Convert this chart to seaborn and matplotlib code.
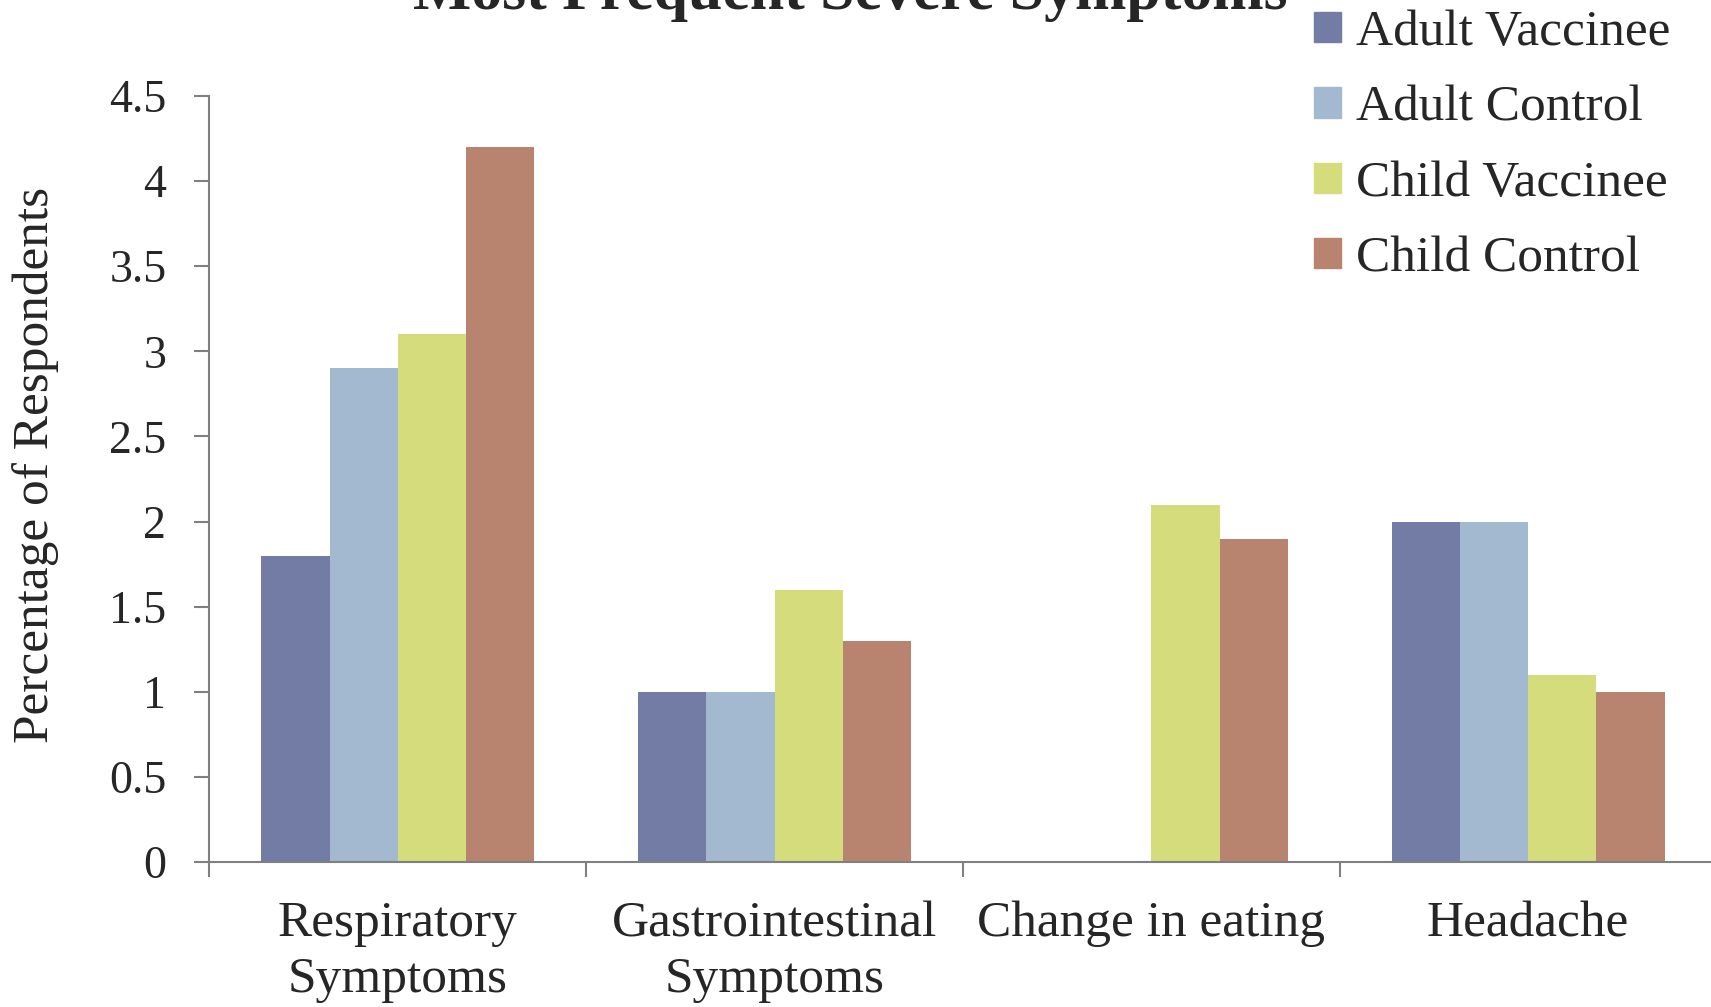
import seaborn as sns
import matplotlib.pyplot as plt
import pandas as pd
from matplotlib.ticker import FixedLocator, FuncFormatter

symptoms = ['Respiratory\nSymptoms', 'Gastrointestinal\nSymptoms', 'Change in eating', 'Headache']
groups = ['Adult Vaccinee', 'Adult Control', 'Child Vaccinee', 'Child Control']
adult_vaccinee = [1.8, 1.0, 0.0, 2.0]
adult_control = [2.9, 1.0, 0.0, 2.0]
child_vaccinee = [3.1, 1.6, 2.1, 1.1]
child_control = [4.2, 1.3, 1.9, 1.0]
colors = ['#727ca4', '#a2b9d0', '#d4dc7b', '#b8846f']

rows = []
for g, vals in zip(groups, [adult_vaccinee, adult_control, child_vaccinee, child_control]):
    for s, v in zip(symptoms, vals):
        rows.append({'symptom': s, 'group': g, 'pct': v})
df = pd.DataFrame(rows)

sns.set_style('white')
plt.rcParams['font.family'] = ['Liberation Serif', 'DejaVu Serif']

fig = plt.figure(figsize=(17.11, 10.07), dpi=100)
ax = fig.add_axes([0.1224, 0.144, 0.8808, 0.7607])

sns.barplot(data=df, x='symptom', y='pct', hue='group', order=symptoms, hue_order=groups,
            palette=colors, saturation=1, width=0.725, linewidth=0, ax=ax, legend=False)

ax.set_xlim(-0.5, 3.5)
ax.set_ylim(0, 4.5)
ax.set_yticks([i * 0.5 for i in range(10)])
ax.yaxis.set_major_formatter(FuncFormatter(lambda v, p: '%g' % v))
ax.tick_params(axis='y', direction='out', length=11, width=1.5, color='#808080',
               labelsize=33, pad=20, left=True)

# category boundaries as major ticks, labels on minor ticks
ax.xaxis.set_major_locator(FixedLocator([-0.5, 0.5, 1.5, 2.5, 3.5]))
ax.xaxis.set_minor_locator(FixedLocator([0, 1, 2, 3]))
ax.set_xticklabels([], minor=False)
ax.set_xticklabels(symptoms, minor=True, linespacing=1.25)
ax.tick_params(axis='x', which='major', direction='out', length=11, width=1.5,
               color='#808080', bottom=True)
ax.tick_params(axis='x', which='minor', length=0, labelsize=37, pad=28)

for side in ['top', 'right']:
    ax.spines[side].set_visible(False)
for side in ['left', 'bottom']:
    ax.spines[side].set_color('#808080')
    ax.spines[side].set_linewidth(1.5)

ax.set_xlabel('')
ax.set_ylabel('Percentage of Respondents', fontsize=37)
ax.yaxis.set_label_coords(-0.0995, 0.518)

handles = [plt.Rectangle((0, 0), 1, 1, color=c) for c in colors]
fig.legend(handles, groups, loc='upper left', bbox_to_anchor=(0.741, 1.036), frameon=False,
           fontsize=37, handlelength=0.53, handleheight=0.53, handletextpad=0.28,
           labelspacing=0.56)

fig.text(0.497, 1 - 9 / 1007, 'Most Frequent Severe Symptoms', ha='center', va='baseline',
         fontsize=44.5, fontweight='bold')

fig.savefig('out.png', dpi=100, facecolor='white')
